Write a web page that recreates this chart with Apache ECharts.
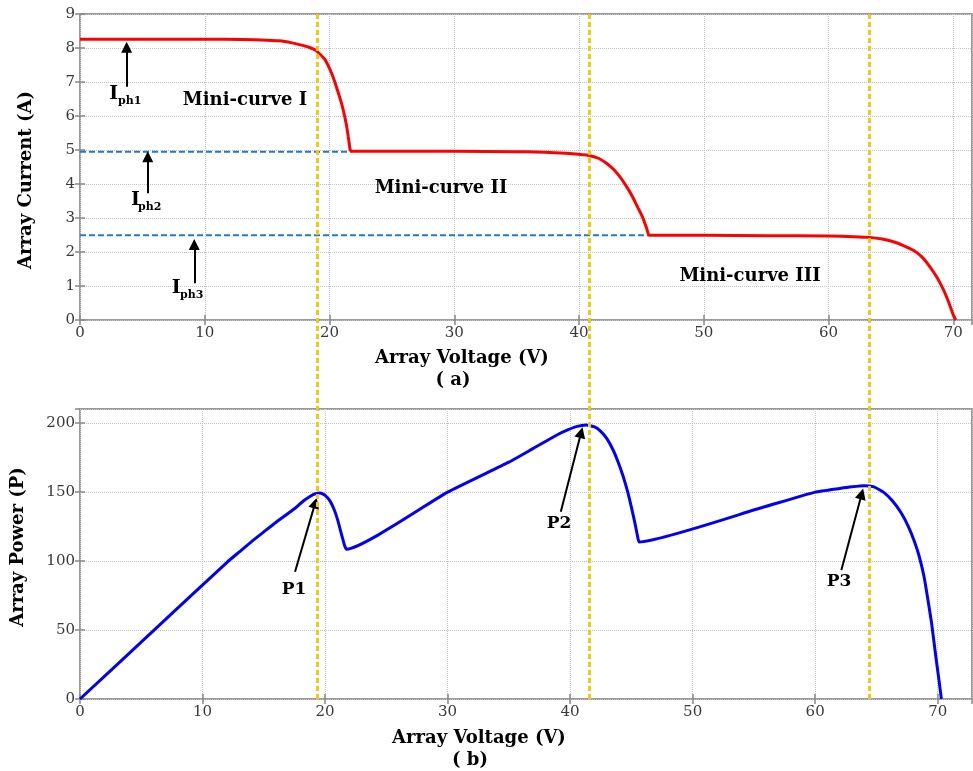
<!DOCTYPE html>
<html>
<head>
<meta charset="utf-8">
<script src="https://cdn.jsdelivr.net/npm/echarts@6/dist/echarts.min.js"></script>
<style>
html,body{margin:0;padding:0;background:#fff;}
#c{width:973px;height:771px;}
</style>
</head>
<body>
<div id="c"></div>
<script>
// ---- Data (a): I-V curve ----
const ivVoltage = [0,5,10,13,15,16,17,17.6,18.3,18.9,19.6,20.0,20.3,20.6,20.9,21.15,21.35,21.5,21.65,21.75,25,30,35,36.5,38,39.5,40.8,41.6,42.2,42.8,43.3,43.8,44.3,44.7,45.1,45.4,45.6,46,50,55,60,62,63.3,64.3,65.2,66.0,66.8,67.5,68.1,68.7,69.2,69.6,70.0,70.2];
const ivCurrent = [8.26,8.26,8.26,8.25,8.23,8.21,8.15,8.10,8.03,7.93,7.68,7.40,7.13,6.80,6.45,6.10,5.75,5.40,5.02,4.96,4.96,4.96,4.95,4.94,4.92,4.89,4.84,4.75,4.61,4.42,4.20,3.93,3.62,3.32,3.02,2.72,2.50,2.49,2.49,2.48,2.47,2.45,2.43,2.38,2.30,2.19,2.05,1.85,1.58,1.25,0.90,0.55,0.15,0];
const iphLevels = [4.95, 2.49];
const iphEnds = [21.7, 45.6];
const iArrowV = [3.74, 5.43, 9.16];
const iArrowTail = [6.86, 3.73, 1.08];
const iArrowTip = [8.02, 4.80, 2.22];

// ---- Data (b): P-V curve ----
const pvVoltage = [0,6,12,13,14,15,16,17,17.6,18.2,18.8,19.2,19.6,20.0,20.4,20.75,21.05,21.35,21.6,21.75,30,35,37,39,39.8,40.5,41.3,42.0,42.5,43.0,43.5,43.9,44.3,44.7,45.0,45.3,45.5,45.65,55.8,60,62,63,64,64.8,65.6,66.3,67,67.6,68.1,68.5,68.9,69.2,69.5,69.85,70.1,70.3];
const pvPower = [0,49.5,99,106.5,114,121,128,134.5,138.5,143.2,146.8,148.6,149.2,147.5,143.5,137,129,119,111,108.5,149.8,171.5,181.5,191.5,194.8,197.2,198.4,197,193.8,188.5,180.5,172,162,150,139,127,118,113.7,139,149.8,152.5,153.7,154.5,153.6,149.6,143.5,135,125,114,103,88,72,55,30.6,14,0];
const pArrowTail = [[17.55,92.2],[39.24,135.6],[62.14,93.4]];
const pArrowTip = [[19.2,142],[40.9,193],[63.8,148.5]];

// ---- Vertical marker lines (shared figure) ----
const markerV = [19.33, 41.57, 64.43];

// ---- Axis ranges / ticks ----
const xMaxTop = 71.5, xMaxBottom = 72.8;
const iMax = 9, iInterval = 1;
const pMax = 210, pInterval = 50;
const vInterval = 10;

const FONT = '"DejaVu Serif", "Liberation Serif", serif';
const frame = '#9a9a9a';
const gridLine = {show:true, lineStyle:{color:'#c4c4c4', type:'dotted', width:1}};
const tickIn = {show:true, inside:true, length:5, lineStyle:{color:'#888', width:1.5}};
function lbl(showMax){ return {fontFamily:FONT, fontSize:15, color:'#3a3a3a', showMaxLabel:showMax}; }

function xAx(grid, max, pos, labels){
  return {type:'value', gridIndex:grid, min:0, max:max, interval:vInterval, position:pos,
    axisLine:{show:false}, axisTick:tickIn,
    axisLabel: labels ? Object.assign({margin:6}, lbl(false)) : {show:false},
    splitLine: labels ? gridLine : {show:false}};
}
function yAx(grid, max, interval, pos, labels, showMax){
  return {type:'value', gridIndex:grid, min:0, max:max, interval:interval, position:pos,
    axisLine:{show:false}, axisTick:tickIn,
    axisLabel: labels ? Object.assign({margin:5}, lbl(showMax)) : {show:false},
    splitLine: labels ? gridLine : {show:false}};
}

const arrowLine = {color:'#000', width:2, type:'solid'};
function arrowML(pairs){
  return {silent:true, symbol:['none','triangle'], symbolSize:11, label:{show:false},
    lineStyle:arrowLine, itemStyle:{color:'#000'}, emphasis:{disabled:true}, animation:false,
    data: pairs};
}

const topArrows = iArrowV.map((v,i)=>[{coord:[v, iArrowTail[i]]},{coord:[v, iArrowTip[i]]}]);
const botArrows = pArrowTail.map((t,i)=>[{coord:t},{coord:pArrowTip[i]}]);

function txt(s, x, y, size, opts){
  return Object.assign({type:'text', x:x, y:y, silent:true, z:100,
    style:{text:s, font:'bold '+size+'px '+FONT, fill:'#000', align:'center', verticalAlign:'middle'}}, opts||{});
}
function sub(s, x, y){
  return {type:'text', x:x, y:y, silent:true, z:100,
    style:{text:s, font:'bold 11px '+FONT, fill:'#000', align:'left', verticalAlign:'middle'}};
}

const chart = echarts.init(document.getElementById('c'), null, {renderer:'canvas'});
chart.setOption({
  animation:false,
  backgroundColor:'#fff',
  grid:[
    {left:80, right:1, top:14, bottom:451, show:true, borderColor:frame, borderWidth:2},
    {left:80, right:1, top:409, bottom:72, show:true, borderColor:frame, borderWidth:2},
    {left:80, right:1, top:14, bottom:72}
  ],
  xAxis:[
    xAx(0, xMaxTop, 'bottom', true),
    xAx(0, xMaxTop, 'top', false),
    xAx(1, xMaxBottom, 'bottom', true),
    xAx(1, xMaxBottom, 'top', false),
    {type:'value', gridIndex:2, min:0, max:xMaxBottom, show:false}
  ],
  yAxis:[
    yAx(0, iMax, iInterval, 'left', true, true),
    yAx(0, iMax, iInterval, 'right', false, true),
    yAx(1, pMax, pInterval, 'left', true, false),
    yAx(1, pMax, pInterval, 'right', false, false),
    {type:'value', gridIndex:2, min:0, max:1, show:false}
  ],
  series:[
    {type:'line', xAxisIndex:0, yAxisIndex:0, showSymbol:false, z:2,
      lineStyle:{color:'#1f7bd0', width:2, type:[6,3]},
      data:[[0,iphLevels[0]],[iphEnds[0],iphLevels[0]]]},
    {type:'line', xAxisIndex:0, yAxisIndex:0, showSymbol:false, z:2,
      lineStyle:{color:'#1f7bd0', width:2, type:[6,3]},
      data:[[0,iphLevels[1]],[iphEnds[1],iphLevels[1]]]},
    {type:'line', xAxisIndex:0, yAxisIndex:0, showSymbol:false, z:3, smooth:0.15,
      lineStyle:{color:'#ff0000', width:3}, itemStyle:{color:'#ff0000'},
      data: ivVoltage.map((v,i)=>[v, ivCurrent[i]])},
    {type:'line', xAxisIndex:0, yAxisIndex:0, data:[], z:6, markLine: arrowML(topArrows)},
    {type:'line', xAxisIndex:2, yAxisIndex:2, showSymbol:false, z:3, smooth:0.15,
      lineStyle:{color:'#0000ff', width:3}, itemStyle:{color:'#0000ff'},
      data: pvVoltage.map((v,i)=>[v, pvPower[i]])},
    {type:'line', xAxisIndex:2, yAxisIndex:2, data:[], z:6, markLine: arrowML(botArrows)},
    {type:'line', xAxisIndex:4, yAxisIndex:4, data:[], z:5,
      markLine:{silent:true, symbol:['none','none'], label:{show:false}, animation:false,
        lineStyle:{color:'#ffc20e', width:3, type:[5,3]}, emphasis:{disabled:true},
        data: markerV.map(v=>({xAxis:v}))}}
  ],
  graphic:[
    txt('Array Current (A)', 26, 180, 18, {rotation:Math.PI/2}),
    txt('Array Voltage (V)', 462, 358, 18),
    txt('( a)', 453, 380, 18),
    txt('Array Power (P)', 18, 547, 18, {rotation:Math.PI/2}),
    txt('Array Voltage (V)', 479, 738, 18),
    txt('( b)', 470, 760, 18),
    txt('Mini-curve I', 245, 100, 18),
    txt('Mini-curve II', 441, 188, 18),
    txt('Mini-curve III', 750, 276, 18),
    txt('I', 113.7, 94, 19), sub('ph1', 118, 101),
    txt('I', 135.5, 200, 19), sub('ph2', 138, 207),
    txt('I', 176.3, 288, 19), sub('ph3', 180, 295),
    txt('P1', 294, 590, 17),
    txt('P2', 559, 524, 17),
    txt('P3', 839, 582, 17)
  ]
});
</script>
</body>
</html>
